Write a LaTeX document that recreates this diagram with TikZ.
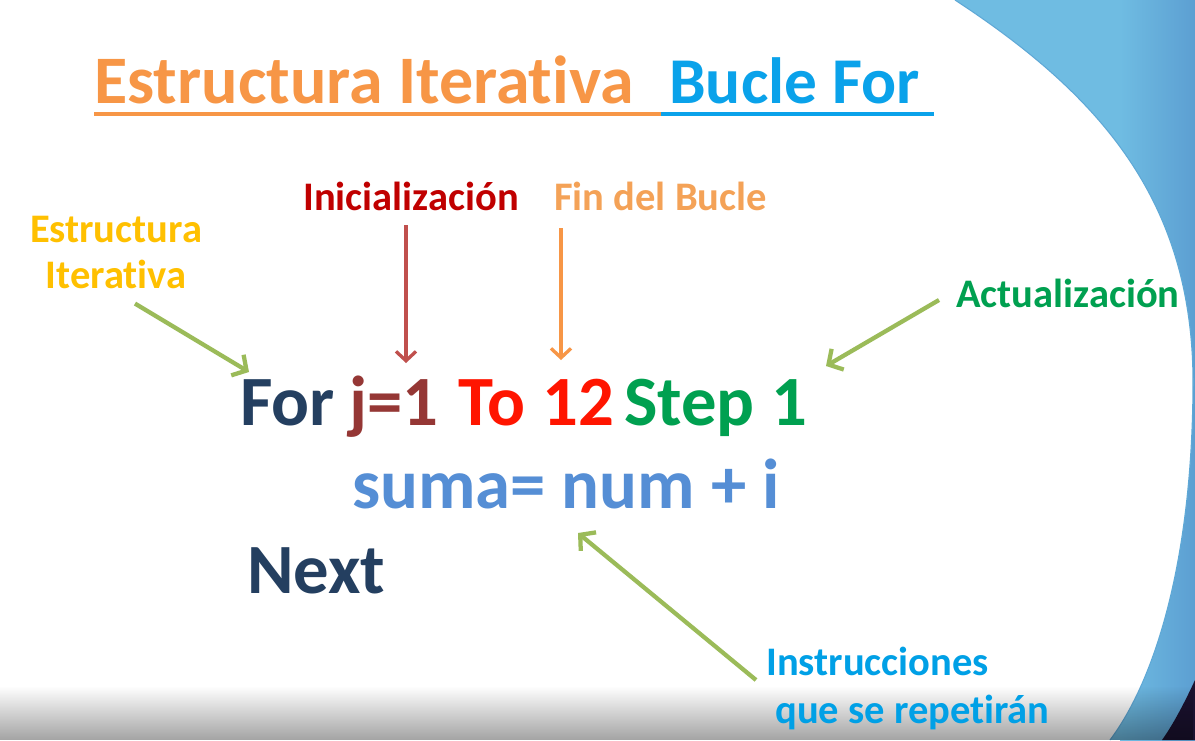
\documentclass[tikz,border=0pt]{standalone}
\usepackage{fontspec}
\setmainfont{Carlito}[Ligatures=NoCommon]
\usetikzlibrary{arrows.meta,calc,fadings}

\definecolor{skyA}{HTML}{6FBCE2}
\definecolor{skyB}{HTML}{5C9FD2}
\definecolor{skyEdge}{HTML}{5EA8D6}
\definecolor{nightCorner}{HTML}{1B1230}
\definecolor{titleOrange}{HTML}{F79646}
\definecolor{titleBlue}{HTML}{0AA2EA}
\definecolor{gold}{HTML}{FFC000}
\definecolor{crimson}{HTML}{C00000}
\definecolor{finOrange}{HTML}{F4A257}
\definecolor{leafGreen}{HTML}{00A050}
\definecolor{cyanText}{HTML}{00A0E6}
\definecolor{navy}{HTML}{243F60}
\definecolor{brick}{HTML}{953735}
\definecolor{pureRed}{HTML}{FF1500}
\definecolor{sumaBlue}{HTML}{558ED5}
\definecolor{olive}{HTML}{9BBB59}
\definecolor{rose}{HTML}{C0504D}

\tikzset{
  titletext/.style={font=\bfseries\fontsize{51}{60}\selectfont, inner sep=0pt, anchor=base west},
  codetext/.style={font=\bfseries\fontsize{53}{62}\selectfont, inner sep=0pt, anchor=base west},
  lbl/.style={font=\bfseries\fontsize{30.4}{36}\selectfont, inner sep=0pt, anchor=base west},
  pointer/.style={line width=3.2pt, -{Straight Barb[length=8pt,width=18pt]}},
  drop/.style={line width=2.5pt, -{Straight Barb[length=7pt,width=15pt]}},
}

\begin{document}
\begin{tikzpicture}[x=0.75pt,y=-0.75pt]
\useasboundingbox (0,0) rectangle (1195,740);

% blue backdrop on the right
\fill[skyA] (860,0) rectangle (1120,740);
\shade[left color=skyA, right color=skyB] (1120,0) rectangle (1195,740);
\fill[nightCorner] (1195,680) .. controls (1183,706) and (1172,726) .. (1162,740) -- (1195,740) -- cycle;

% white page with its curved right edge
\fill[white] (0,0) -- (955,0) .. controls (1100,95) and (1192,200) .. (1193,380)
  .. controls (1193,560) and (1155,680) .. (1110,740) -- (0,740) -- cycle;
\draw[skyEdge, line width=0.8pt] (955,0) .. controls (1100,95) and (1192,200) .. (1193,380)
  .. controls (1193,560) and (1155,680) .. (1110,740);

% soft shadow along the bottom
\fill[black, path fading=north, fill opacity=0.36] (0,686) rectangle (1195,740);

% title with two-coloured underline
\node[titletext, text=titleOrange] (t1) at (94,103) {Estructura Iterativa};
\node[titletext, text=titleBlue, font=\bfseries\fontsize{49}{58}\selectfont] (t2) at (669,103) {Bucle For};
\coordinate (ulSplit) at (661,114);
\draw[titleOrange, line width=3pt] ($(t1.base west)+(0,11)$) -- (ulSplit);
\draw[titleBlue, line width=3pt] (ulSplit) -- ($(t2.base east)+(14,11)$);

% loop code
\node[codetext, text=navy] (kfor) at (240,425) {For};
\node[codetext, text=brick] (kj) at (349,425) {j=1};
\node[codetext, text=pureRed] (kto) at (458,425) {To};
\node[codetext, text=pureRed] (k12) at (542,425) {12};
\node[codetext, text=leafGreen] (kstep) at (624,425) {Step};
\node[codetext, text=leafGreen] (kone) at (771,425) {1};
\node[codetext, text=sumaBlue] (ksuma) at (352,508) {suma= num + i};
\node[codetext, text=navy] (knext) at (247,593) {Next};

% annotations
\node[lbl, text=gold, anchor=base] (ei1) at (116,242) {Estructura};
\node[lbl, text=gold, anchor=base] (ei2) at (116,288) {Iterativa};
\node[lbl, text=crimson] (ini) at (303,210) {Inicialización};
\node[lbl, text=finOrange] (fin) at (554,210) {Fin del Bucle};
\node[lbl, text=leafGreen] (act) at (956,307) {Actualización};
\node[lbl, text=cyanText] (ins1) at (766,675) {Instrucciones};
\node[lbl, text=cyanText] (ins2) at (775,723) {que se repetirán};

% arrow targets
\coordinate (pFor) at (249,372);
\coordinate (pJ) at (406,363);
\coordinate (pTo) at (561,360);
\coordinate (pStep) at (826,366);
\coordinate (pSuma) at (578,533);

% arrows
\draw[pointer, olive] ($(ei2.south)+(19,15)$) -- (pFor);
\draw[drop, rose] ($(ini.base west)+(103,15)$) -- (pJ);
\draw[drop, titleOrange] ($(fin.base west)+(7,18)$) -- (pTo);
\draw[pointer, olive] ($(act.base west)+(-17,-7)$) -- (pStep);
\draw[pointer, olive] ($(ins1.base west)+(-10,5)$) -- (pSuma);
\end{tikzpicture}
\end{document}
